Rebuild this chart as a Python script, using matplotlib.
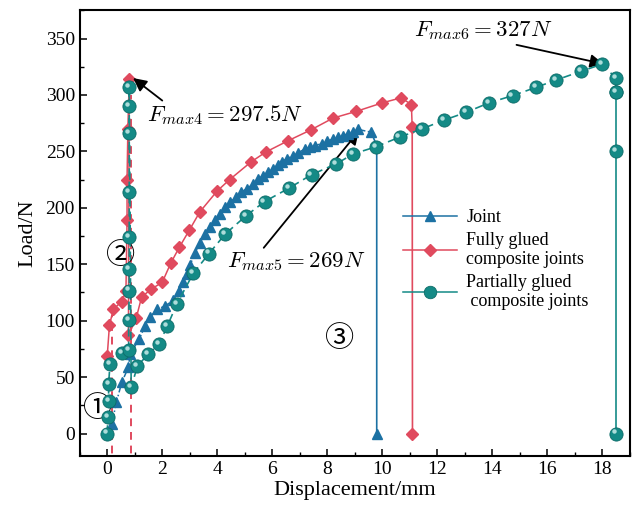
import matplotlib
matplotlib.use('Agg')
import matplotlib.pyplot as plt
from matplotlib.lines import Line2D
from matplotlib import transforms
from matplotlib.ticker import MultipleLocator

plt.rcParams['font.family'] = ['Liberation Serif', 'DejaVu Sans']
plt.rcParams['mathtext.fontset'] = 'cm'

# ---------------- data ----------------
joint_x = [0.17, 0.33, 0.53, 0.77, 0.83, 1.17, 1.38, 1.56, 1.8, 2.1, 2.4, 2.6, 2.75, 2.89,
           3.01, 3.19, 3.37, 3.56, 3.74, 3.92, 4.1, 4.28, 4.46, 4.7, 4.88, 5.07, 5.31, 5.49,
           5.67, 5.85, 6.03, 6.2, 6.34, 6.52, 6.76, 6.95, 7.18, 7.37, 7.55, 7.8, 8.0, 8.21,
           8.39, 8.57, 8.76, 8.94, 9.12, 9.6]
joint_y = [8.5, 27.7, 45.5, 58.7, 70.6, 84, 95.7, 103, 110, 113, 118, 126, 134, 141,
           149, 160, 169, 177, 183, 189, 194.6, 200.5, 205, 209.5, 214, 217, 221, 225.6,
           228.5, 231.5, 234.4, 238, 240.5, 243.5, 246, 249, 252, 253.6, 255, 257, 259, 261,
           262.6, 264, 265.5, 267.5, 269.5, 267]
joint_drop_x = [9.6, 9.8, 9.8]
joint_drop_y = [267, 255, 0]

full_x = [0.0, 0.08, 0.22, 0.52, 0.68, 0.72, 0.72, 0.75, 0.8, 0.77, 1.05, 1.25, 1.6, 2.0,
          2.31, 2.62, 2.98, 3.37, 4.0, 4.45, 5.22, 5.77, 6.58, 7.4, 8.21, 9.06, 10.0,
          10.69, 11.06, 11.09]
full_y = [69, 96, 110, 117, 126, 189, 225, 270, 314, 87, 102, 121, 128, 134,
          151, 165, 180, 196.5, 215, 225, 240.5, 249.5, 259.5, 269, 279.5, 285.5, 293,
          297.5, 291.5, 271.5]
full_drop_x = [11.09, 11.1]
full_drop_y = [271.5, 0]
full_guide1_x = [0.17, 0.17]
full_guide1_y = [-30, 105]
full_guide2_x = [0.88, 0.88]
full_guide2_y = [-30, 300]

part_x = [0.0, 0.02, 0.05, 0.05, 0.1, 0.53, 0.78, 0.78, 0.8, 0.8, 0.8, 0.8, 0.8, 0.8, 0.8,
          0.87, 1.1, 1.5, 1.89, 2.19, 2.53, 3.13, 3.7, 4.3, 5.05, 5.72, 6.62, 7.43, 8.33,
          8.94, 9.76, 10.63, 11.45, 12.26, 13.05, 13.88, 14.74, 15.59, 16.32, 17.22, 18.0,
          18.49, 18.49]
part_y = [0, 14.5, 29, 44, 61.7, 71, 74, 100.7, 126.7, 145.8, 174, 213.8, 266, 290.5, 306.7,
          41, 60, 70.6, 79.5, 95.6, 114.8, 142, 159.5, 177, 193, 205.5, 217.6, 229.4, 239,
          247.7, 254, 262.6, 270, 277.8, 284.6, 293, 299.4, 306.7, 313.2, 320.9, 327.3,
          315, 303]
part_drop_x = [18.49, 18.49, 18.49]
part_drop_y = [303, 250, 0]

xticks = [0, 2, 4, 6, 8, 10, 12, 14, 16, 18]
yticks = [0, 50, 100, 150, 200, 250, 300, 350]

c_joint = '#1c71a3'
c_full = '#e04a5e'
c_part = '#148a86'

# ---------------- figure ----------------
fig = plt.figure(figsize=(6.38, 5.16), dpi=100)
ax = fig.add_axes([0.125, 0.116, 0.862, 0.864])

# guides / drops
ax.plot(full_guide1_x, full_guide1_y, color=c_full, lw=1.4, ls=(0, (4, 3)), zorder=1)
ax.plot(full_guide2_x, full_guide2_y, color=c_full, lw=1.4, ls=(0, (4, 3)), zorder=1)
ax.plot(joint_drop_x, joint_drop_y, color=c_joint, lw=1.2, marker='^', ms=7.5,
        markevery=[2], zorder=2)
ax.plot(full_drop_x, full_drop_y, color=c_full, lw=1.2, marker='D', ms=6,
        markevery=[1], zorder=2)

# main series
ax.plot(full_x, full_y, color=c_full, lw=1.1, marker='D', ms=6, zorder=3)
ax.plot(joint_x, joint_y, color=c_joint, lw=1.1, ls='-.', marker='^', ms=7.5, zorder=4)
ax.plot(part_x, part_y, color=c_part, lw=1.2, ls=(0, (5, 3)), marker='o', ms=9.5,
        mec='#0d6b68', mew=0.6, zorder=5)
ax.plot(part_drop_x, part_drop_y, color=c_part, lw=1.2, marker='o', ms=9.5,
        mec='#0d6b68', mew=0.6, zorder=5)

# highlights on balls
hl = transforms.offset_copy(ax.transData, fig=fig, x=-1.5, y=1.5, units='points')
ax.plot(part_x + part_drop_x[1:], part_y + part_drop_y[1:], ls='none', marker='o',
        ms=3.2, mfc='#bfe6e4', mec='none', alpha=0.9, transform=hl, zorder=6)

# axes styling
ax.set_xlim(-1, 19)
ax.set_ylim(-20, 375)
ax.set_xticks(xticks)
ax.set_yticks(yticks)
ax.xaxis.set_minor_locator(MultipleLocator(1))
ax.yaxis.set_minor_locator(MultipleLocator(25))
ax.tick_params(which='both', direction='in', top=False, right=False, labelsize=14)
ax.tick_params(which='major', length=5, width=1.1)
ax.tick_params(which='minor', length=3, width=1.0)
for s in ax.spines.values():
    s.set_linewidth(1.5)
ax.set_xlabel('Displacement/mm', fontsize=16, labelpad=2)
ax.set_ylabel('Load/N', fontsize=16, labelpad=6)

# annotations
ax.annotate('$F_{max4}=297.5N$', xy=(0.94, 315), xytext=(1.45, 282), fontsize=16.5,
            va='center', ha='left',
            arrowprops=dict(arrowstyle='-|>', color='black', lw=1.3, mutation_scale=20,
                            shrinkA=0, shrinkB=0, relpos=(0.12, 1.0)))
ax.annotate('$F_{max5}=269N$', xy=(9.15, 268), xytext=(4.35, 152), fontsize=16.5,
            va='center', ha='left',
            arrowprops=dict(arrowstyle='-|>', color='black', lw=1.3, mutation_scale=20,
                            shrinkA=0, shrinkB=0, relpos=(0.25, 1.0)))
ax.annotate('$F_{max6}=327N$', xy=(18.05, 327.5), xytext=(11.15, 357), fontsize=16.5,
            va='center', ha='left',
            arrowprops=dict(arrowstyle='-|>', color='black', lw=1.3, mutation_scale=20,
                            shrinkA=0, shrinkB=0, relpos=(0.65, 0.0)))

circ_font = ['Noto Sans CJK SC', 'DejaVu Sans']
ax.text(-0.36, 22, '①', fontsize=21, ha='center', va='center', family=circ_font)
ax.text(0.47, 157, '②', fontsize=21, ha='center', va='center', family=circ_font)
ax.text(8.45, 84, '③', fontsize=21, ha='center', va='center', family=circ_font)

# legend
handles = [
    Line2D([], [], color=c_joint, marker='^', ms=7.5, lw=1.1),
    Line2D([], [], color=c_full, marker='D', ms=6, lw=1.1),
    Line2D([], [], color=c_part, marker='o', ms=9, lw=1.1, mec='#0d6b68', mew=0.6),
]
labels = ['Joint', 'Fully glued\ncomposite joints', 'Partially glued\n composite joints']
ax.legend(handles, labels, loc='upper left', bbox_to_anchor=(0.575, 0.57), frameon=False,
          fontsize=13, handlelength=3.0, handletextpad=0.5, labelspacing=0.3,
          borderaxespad=0)

fig.savefig('out.png', dpi=100)
